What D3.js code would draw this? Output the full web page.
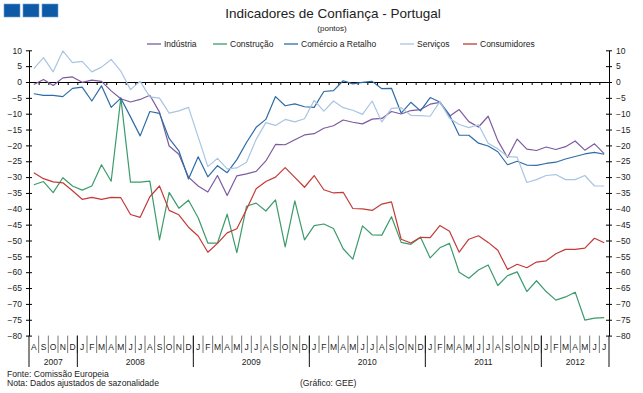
<!DOCTYPE html>
<html><head><meta charset="utf-8">
<script src="https://cdn.jsdelivr.net/npm/d3@7"></script>
<style>
body{margin:0;background:#fff}
svg{display:block}
text{font-family:"Liberation Sans",Arial,sans-serif;fill:#222}
</style>
</head><body>
<svg id="chart" width="643" height="393"></svg>
<script>
// ---------- DATA ----------
const monthLabels = ["A","S","O","N","D",
  "J","F","M","A","M","J","J","A","S","O","N","D",
  "J","F","M","A","M","J","J","A","S","O","N","D",
  "J","F","M","A","M","J","J","A","S","O","N","D",
  "J","F","M","A","M","J","J","A","S","O","N","D",
  "J","F","M","A","M","J","J"];
const yearLabels = ["2007","2008","2009","2010","2011","2012"];
const yearMonthCounts = [5,12,12,12,12,7];
const yTickValues = [10,5,0,-5,-10,-15,-20,-25,-30,-35,-40,-45,-50,-55,-60,-65,-70,-75,-80];

const industria = [-0.8,0.8,-1.1,1.3,1.6,-0.1,0.6,0.2,-2.8,-5.3,
  -6.3,-5.5,-4.2,-9.5,-20.2,-22.8,-30.0,-32.8,-34.7,-29.5,
  -35.8,-29.6,-29.0,-28.2,-24.9,-19.7,-19.8,-18.2,-16.7,-16.3,
  -14.6,-13.8,-12.0,-12.7,-13.2,-11.7,-11.5,-9.3,-10.1,-9.0,
  -8.7,-7.0,-6.4,-10.8,-8.7,-12.5,-14.2,-10.8,-18.5,-23.8,
  -18.0,-21.2,-21.6,-20.5,-21.3,-20.4,-18.6,-21.5,-19.5,-22.6];
const construcao = [-32.4,-31.4,-34.9,-30.2,-32.8,-34.1,-32.8,-26.1,-31.3,-5.0,
  -31.6,-31.6,-31.3,-49.8,-34.8,-39.8,-37.3,-42.8,-50.8,-50.8,
  -41.7,-53.8,-39.2,-38.2,-40.7,-37.2,-52.0,-37.5,-49.8,-45.3,
  -44.8,-46.2,-52.6,-55.9,-45.4,-48.2,-48.3,-42.5,-50.6,-51.2,
  -49.0,-55.5,-52.3,-50.9,-60.0,-61.9,-59.3,-57.7,-64.2,-61.1,
  -59.9,-66.1,-62.7,-66.1,-68.8,-67.8,-66.3,-75.1,-74.5,-74.3];
const comercio = [-3.7,-4.2,-4.2,-4.6,-2.0,-1.6,-6.0,-1.2,-8.0,-5.1,
  -11.0,-17.0,-9.3,-9.9,-17.8,-21.7,-30.6,-23.6,-29.9,-26.4,
  -28.6,-24.5,-19.1,-14.3,-11.8,-4.6,-7.5,-6.9,-7.8,-8.0,
  -3.0,-2.7,0.4,-0.6,-0.1,0.2,-2.1,-2.0,-9.8,-6.4,
  -9.1,-4.9,-6.3,-10.4,-16.8,-16.8,-19.3,-20.2,-22.0,-26.1,
  -25.0,-26.2,-26.3,-25.7,-25.3,-24.3,-23.5,-22.7,-22.2,-22.8];
const servicos = [4.2,7.7,3.2,9.8,6.1,6.5,3.2,4.7,7.1,3.4,
  -2.4,0.2,-4.7,-5.1,-9.8,-9.1,-8.0,-17.3,-26.7,-24.1,
  -27.4,-27.1,-25.3,-18.1,-12.8,-13.7,-11.8,-12.6,-11.6,-5.8,
  -9.2,-6.0,-8.1,-8.9,-10.2,-6.0,-12.6,-8.3,-8.1,-10.5,
  -10.6,-10.8,-6.2,-11.4,-13.4,-14.4,-13.5,-19.3,-21.1,-23.5,
  -23.7,-31.7,-30.8,-29.5,-29.2,-30.8,-30.8,-29.5,-32.8,-32.8];
const consumidores = [-28.6,-30.5,-31.5,-31.8,-34.3,-37.0,-36.4,-37.0,-36.4,-36.5,
  -41.8,-42.7,-36.2,-32.8,-40.5,-41.9,-45.8,-48.6,-53.7,-50.9,
  -47.6,-46.3,-40.2,-33.7,-31.4,-30.0,-27.0,-30.1,-33.2,-29.5,
  -34.0,-35.0,-34.8,-39.9,-40.0,-40.5,-38.5,-37.8,-49.6,-50.8,
  -49.0,-49.1,-45.3,-47.1,-53.7,-49.6,-48.5,-50.6,-53.1,-59.1,
  -57.5,-58.6,-56.8,-56.4,-54.2,-52.8,-52.8,-52.4,-49.3,-50.7];

const seriesNames = ["Indústria","Construção","Comércio a Retalho","Serviços","Consumidores"];
const seriesValues = [industria, construcao, comercio, servicos, consumidores];
const seriesColors = ["#7d5b9e","#3c9b6b","#2f6ca5","#a9c5e2","#c33a37"];

// ---------- LAYOUT ----------
const svg = d3.select("#chart");
const X0 = 29, X1 = 609, YTOP = 50.3, YBOT = 335.6;
const n = monthLabels.length;

const x = d3.scaleBand().domain(d3.range(n)).range([X0, X1]).padding(0);
const xLin = d3.scaleLinear().domain([0, n]).range([X0, X1]);
const y = d3.scaleLinear().domain([-80, 10]).range([YBOT, YTOP]);

// logo
svg.append("g").selectAll("rect").data([0,1,2]).join("rect")
  .attr("x", d => 4 + d*19).attr("y", 4).attr("width", 16).attr("height", 13)
  .attr("fill", "#0f5aa6").attr("stroke", "#6f9fd0").attr("stroke-width", 0.6);

// titles
svg.append("text").attr("x", 333).attr("y", 18).attr("text-anchor", "middle")
  .attr("font-size", 13.5).text("Indicadores de Confiança - Portugal");
svg.append("text").attr("x", 332).attr("y", 31).attr("text-anchor", "middle")
  .attr("font-size", 8).text("(pontos)");

// legend
const legendX = [147, 213, 284, 400, 463];
const lg = svg.append("g").selectAll("g").data(seriesNames).join("g")
  .attr("transform", (d,i) => `translate(${legendX[i]},44)`);
lg.append("line").attr("x1", 0).attr("x2", 14).attr("y1", 0).attr("y2", 0)
  .attr("stroke", (d,i) => seriesColors[i]).attr("stroke-width", 1.3);
lg.append("text").attr("x", 17).attr("y", 3).attr("font-size", 8.5).text(d => d);

// y axes
function styleY(g, left) {
  g.select(".domain").attr("stroke", "#000");
  g.selectAll(".tick line").attr("x1", -3).attr("x2", 3).attr("stroke", "#000");
  g.selectAll(".tick text").attr("font-size", 8.5).attr("fill", "#222")
    .attr("font-family", '"Liberation Sans",Arial,sans-serif')
    .attr("x", left ? -7 : 7);
}
svg.append("g").attr("transform", `translate(${X0},0)`)
  .call(d3.axisLeft(y).tickValues(yTickValues).tickSize(3).tickSizeOuter(0).tickFormat(d3.format("d")))
  .call(g => styleY(g, true));
svg.append("g").attr("transform", `translate(${X1},0)`)
  .call(d3.axisRight(y).tickValues(yTickValues).tickSize(3).tickSizeOuter(0).tickFormat(d3.format("d")))
  .call(g => styleY(g, false));

// zero line with month ticks
svg.append("g").attr("transform", `translate(0,${y(0)})`)
  .call(d3.axisBottom(xLin).tickValues(d3.range(0, n+1)).tickSize(3).tickSizeOuter(0).tickFormat(""))
  .call(g => { g.select(".domain").attr("stroke", "#000"); g.selectAll(".tick line").attr("stroke", "#000"); });

// category area
const yearStarts = [0];
yearMonthCounts.forEach((c,i) => yearStarts.push(yearStarts[i] + c));
const cat = svg.append("g");
cat.selectAll("line.m").data(d3.range(1, n)).join("line")
  .attr("x1", d => xLin(d)).attr("x2", d => xLin(d))
  .attr("y1", YBOT).attr("y2", 353)
  .attr("stroke", "#555").attr("stroke-width", 0.8);
cat.selectAll("line.yr").data(yearStarts).join("line")
  .attr("x1", d => xLin(d)).attr("x2", d => xLin(d))
  .attr("y1", YBOT).attr("y2", 367)
  .attr("stroke", "#111").attr("stroke-width", 1);
cat.selectAll("text.m").data(monthLabels).join("text")
  .attr("x", (d,i) => x(i) + x.bandwidth()/2).attr("y", 350)
  .attr("text-anchor", "middle").attr("font-size", 8.5).text(d => d);
cat.selectAll("text.yr").data(yearLabels).join("text")
  .attr("x", (d,i) => (xLin(yearStarts[i]) + xLin(yearStarts[i+1]))/2).attr("y", 365)
  .attr("text-anchor", "middle").attr("font-size", 8.5).text(d => d);

// series
const line = d3.line().x((d,i) => x(i) + x.bandwidth()/2).y(d => y(d));
svg.append("g").selectAll("path").data(seriesValues).join("path")
  .attr("d", d => line(d)).attr("fill", "none")
  .attr("stroke", (d,i) => seriesColors[i]).attr("stroke-width", 1.2)
  .attr("stroke-linejoin", "round");

// footer
svg.append("text").attr("x", 7).attr("y", 377).attr("font-size", 8.6).text("Fonte: Comissão Europeia");
svg.append("text").attr("x", 7).attr("y", 386).attr("font-size", 8.6).text("Nota: Dados ajustados de sazonalidade");
svg.append("text").attr("x", 300).attr("y", 386).attr("font-size", 8.6).text("(Gráfico: GEE)");
</script>
</body></html>
